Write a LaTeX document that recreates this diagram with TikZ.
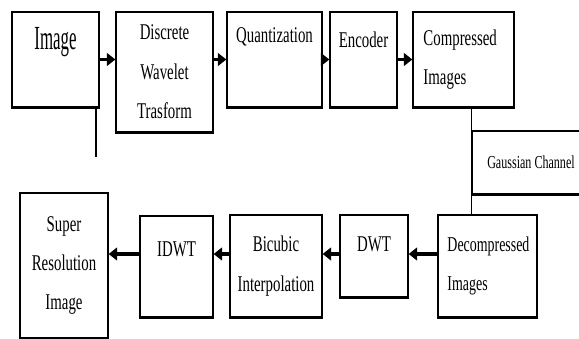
\documentclass[tikz,border=0pt]{standalone}
\usepackage{fontspec}
\newfontfamily\blkfont[FakeStretch=0.66]{Liberation Serif}
\newfontfamily\bigfont[FakeStretch=0.5]{Liberation Serif}
\usetikzlibrary{arrows.meta, positioning}

\begin{document}
\begin{tikzpicture}[
    x=0.025cm, y=-0.025cm,
    block/.style={draw, line width=0.9pt, inner sep=0pt},
    txt/.style={font=\blkfont\fontsize{16}{28}\selectfont, align=center, inner sep=0pt},
    flow/.style={-{Triangle[length=6pt, width=9pt]}, line width=2.6pt},
    link/.style={line width=0.9pt}
]
    \useasboundingbox (0,0) rectangle (579,339);

    % Top row
    \node[block, minimum width=2.175cm, minimum height=2.375cm] (img) at (55.5,59.5) {};
    \node[txt, font=\bigfont\fontsize{24}{28}\selectfont] (imgtxt) at ([yshift=-0.78cm]img.north) {Image};
    \node[block, txt, minimum width=2.425cm, minimum height=3cm] (dwt) at (164.5,72) {Discrete\\Wavelet\\Trasform};
    \node[block, minimum width=2.375cm, minimum height=2.375cm] (quant) at (274.5,59.5) {};
    \node[txt] (quanttxt) at ([yshift=-0.65cm]quant.north) {Quantization};
    \node[block, minimum width=1.675cm, minimum height=2.375cm] (enc) at (363.5,59.5) {};
    \node[txt] (enctxt) at ([yshift=-0.7cm]enc.north) {Encoder};
    \node[block, txt, align=left, text width=2.0cm, minimum width=2.525cm, minimum height=2.375cm] (comp) at (463.5,59.5) {Compressed\\Images};

    % Channel
    \node[block, txt, font=\blkfont\fontsize{13}{15}\selectfont, minimum width=2.95cm, minimum height=1.575cm] (gauss) at (531,162.5) {Gaussian Channel};

    % Bottom row
    \node[block, txt, font=\blkfont\fontsize{15}{28}\selectfont, align=left, text width=2.0cm, minimum width=2.475cm, minimum height=2.55cm] (decomp) at (487.5,266) {Decompressed\\Images};
    \node[block, minimum width=1.7cm, minimum height=2.05cm] (dwtb) at (374,256) {};
    \node[txt] (dwtbtxt) at ([yshift=-0.75cm]dwtb.north) {DWT};
    \node[block, txt, minimum width=2.3cm, minimum height=2.55cm] (bic) at (276,266) {Bicubic\\Interpolation};
    \node[block, minimum width=1.825cm, minimum height=2.525cm] (idwt) at (176.5,266.5) {};
    \node[txt] (idwttxt) at ([yshift=-0.85cm]idwt.north) {IDWT};
    \node[block, txt, minimum width=2.2cm, minimum height=3.625cm] (sr) at (64,265.5) {Super\\Resolution\\Image};

    % Heavier bottom edges
    \foreach \n in {img,dwt,quant,enc,comp,gauss,decomp,dwtb,bic,idwt,sr}
        \draw[line width=1.6pt] (\n.south west) -- (\n.south east);

    % Connectors
    \coordinate (tail) at (96,157);
    \coordinate (row) at (0,254);
    \draw[link] (img.south -| tail) -- (tail);
    \draw[flow] (img.east) -- (img.east -| dwt.west);
    \draw[flow] (dwt.east |- quant.east) -- (quant.west);
    \draw[flow] (quant.east) -- (enc.west);
    \draw[flow] (enc.east) -- (comp.west);
    \draw[link] (comp.south -| gauss.west) -- (decomp.north -| gauss.west);
    \draw[flow] (decomp.west |- row) -- (dwtb.east |- row);
    \draw[flow] (dwtb.west |- row) -- (bic.east |- row);
    \draw[flow] (bic.west |- row) -- (idwt.east |- row);
    \draw[flow] (idwt.west |- row) -- (sr.east |- row);
\end{tikzpicture}
\end{document}
